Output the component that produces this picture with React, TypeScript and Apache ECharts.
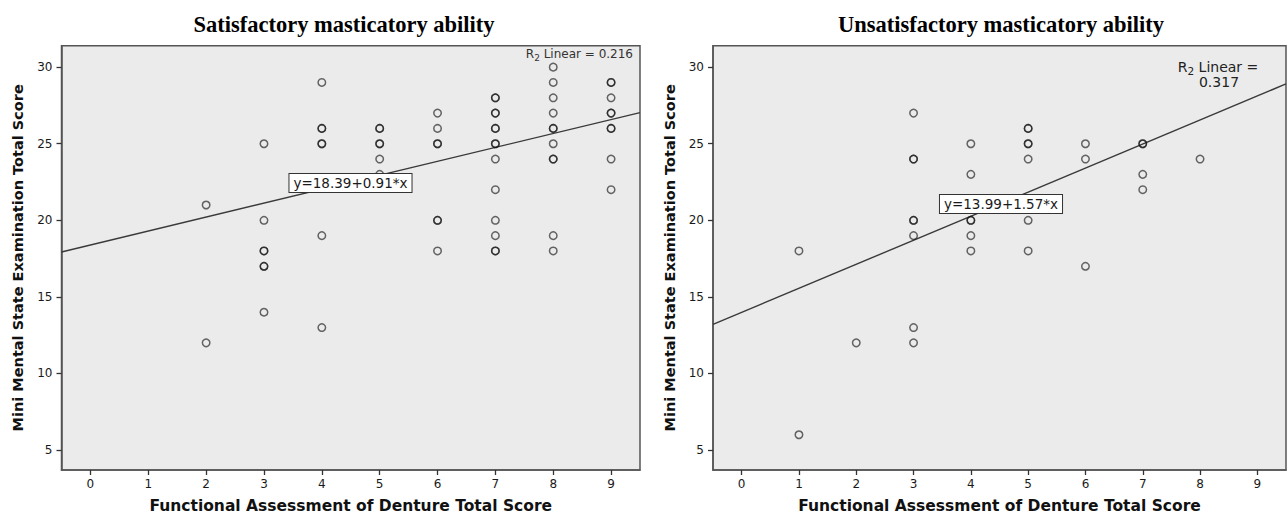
import React, { useEffect, useRef } from "react";
import * as echarts from "echarts";

// ---------- data ----------
const xTickValues = [0, 1, 2, 3, 4, 5, 6, 7, 8, 9];
const yTickValues = [5, 10, 15, 20, 25, 30];

const panelTitles = ["Satisfactory masticatory ability", "Unsatisfactory masticatory ability"];
const xAxisTitle = "Functional Assessment of Denture Total Score";
const yAxisTitle = "Mini Mental State Examination Total Score";

// [FAD score, MMSE score] (duplicates = overlapping respondents)
const satisfactoryPoints: [number, number][] = [
  [2, 21], [2, 12],
  [3, 25], [3, 20], [3, 18], [3, 18], [3, 17], [3, 17], [3, 14],
  [4, 29], [4, 26], [4, 26], [4, 25], [4, 25], [4, 19], [4, 13],
  [5, 26], [5, 26], [5, 25], [5, 25], [5, 24], [5, 23],
  [6, 27], [6, 26], [6, 25], [6, 25], [6, 20], [6, 20], [6, 18],
  [7, 28], [7, 28], [7, 27], [7, 27], [7, 26], [7, 26], [7, 25], [7, 25], [7, 24], [7, 22], [7, 20], [7, 19], [7, 18], [7, 18],
  [8, 30], [8, 29], [8, 28], [8, 27], [8, 26], [8, 26], [8, 25], [8, 24], [8, 24], [8, 19], [8, 18],
  [9, 29], [9, 29], [9, 28], [9, 27], [9, 27], [9, 26], [9, 26], [9, 24], [9, 22],
];

const unsatisfactoryPoints: [number, number][] = [
  [1, 18], [1, 6],
  [2, 12],
  [3, 27], [3, 24], [3, 24], [3, 20], [3, 20], [3, 19], [3, 13], [3, 12],
  [4, 25], [4, 23], [4, 20], [4, 20], [4, 19], [4, 18],
  [5, 26], [5, 26], [5, 25], [5, 25], [5, 24], [5, 20], [5, 18],
  [6, 25], [6, 24], [6, 17],
  [7, 25], [7, 25], [7, 23], [7, 22],
  [8, 24],
];

// fitted lines as reported: y = intercept + slope * x
const fitIntercepts = [18.39, 13.99];
const fitSlopes = [0.91, 1.57];
const fitLabels = ["y=18.39+0.91*x", "y=13.99+1.57*x"];
const r2Values = ["0.216", "0.317"];

const X_MIN = -0.5;
const X_MAX = 9.5;
const Y_MIN = 3.7;
const Y_MAX = 31.4;

const sans = "DejaVu Sans";

export default function App() {
  const ref = useRef<HTMLDivElement>(null);

  useEffect(() => {
    if (!ref.current) return;
    const chart = echarts.init(ref.current, null, { renderer: "svg" });

    const grids = [
      { left: 61.5, top: 45.7, width: 578.5, height: 426.6 },
      { left: 713, top: 45.7, width: 573, height: 426.6 },
    ].map((g) => ({
      ...g,
      show: true,
      backgroundColor: "#ebebeb",
      borderColor: "#555",
      borderWidth: 1.5,
    }));

    const mkX = (i: number) => ({
      type: "value" as const,
      gridIndex: i,
      min: X_MIN,
      max: X_MAX,
      name: xAxisTitle,
      nameLocation: "middle" as const,
      nameGap: 28,
      nameTextStyle: { fontFamily: sans, fontWeight: "bold", fontSize: 15.5, color: "#111" },
      axisLine: { show: true, onZero: false, lineStyle: { color: "#555", width: 1.5 } },
      axisTick: { show: true, length: 5, customValues: xTickValues, lineStyle: { color: "#333", width: 1.3 } },
      axisLabel: { customValues: xTickValues, margin: 8, fontFamily: sans, fontSize: 12, color: "#1a1a1a" },
      splitLine: { show: false },
    });

    const mkY = (i: number) => ({
      type: "value" as const,
      gridIndex: i,
      min: Y_MIN,
      max: Y_MAX,
      name: yAxisTitle,
      nameLocation: "middle" as const,
      nameGap: 36,
      nameTextStyle: { fontFamily: sans, fontWeight: "bold", fontSize: 14.5, color: "#111" },
      axisLine: { show: true, onZero: false, lineStyle: { color: "#555", width: 1.5 } },
      axisTick: { show: true, length: 5, customValues: yTickValues, lineStyle: { color: "#333", width: 1.3 } },
      axisLabel: { customValues: yTickValues, margin: 9, fontFamily: sans, fontSize: 12, color: "#1a1a1a" },
      splitLine: { show: false },
    });

    const scatter = (i: number, pts: [number, number][]) => ({
      type: "scatter" as const,
      xAxisIndex: i,
      yAxisIndex: i,
      data: pts,
      symbol: "circle",
      symbolSize: 7.5,
      itemStyle: { color: "rgba(0,0,0,0)", borderColor: "rgba(20,20,20,0.8)", borderWidth: 1.5 },
      emphasis: { disabled: true },
      z: 3,
    });

    const fitLine = (i: number) => ({
      type: "line" as const,
      xAxisIndex: i,
      yAxisIndex: i,
      data: [
        [X_MIN, fitIntercepts[i] + fitSlopes[i] * X_MIN],
        [X_MAX, fitIntercepts[i] + fitSlopes[i] * X_MAX],
      ],
      symbol: "none",
      lineStyle: { color: "#3a3a3a", width: 1.4 },
      emphasis: { disabled: true },
      z: 2,
    });

    const eqLabel = (text: string, cx: number, cy: number) => ({
      type: "text" as const,
      x: cx,
      y: cy,
      z: 10,
      style: {
        text,
        fontFamily: sans,
        fontSize: 13.5,
        fill: "#1a1a1a",
        align: "center",
        verticalAlign: "middle",
        backgroundColor: "#ffffff",
        borderColor: "#333",
        borderWidth: 1,
        padding: [2, 4, 2, 4],
      },
    });

    const option = {
      animation: false,
      backgroundColor: "#ffffff",
      grid: grids,
      xAxis: [mkX(0), mkX(1)],
      yAxis: [mkY(0), mkY(1)],
      series: [
        fitLine(0),
        scatter(0, satisfactoryPoints),
        fitLine(1),
        scatter(1, unsatisfactoryPoints),
      ],
      graphic: [
        {
          type: "text",
          x: 344,
          y: 24,
          style: {
            text: panelTitles[0],
            font: 'bold 22.5px "Liberation Serif"',
            fill: "#000",
            align: "center",
            verticalAlign: "middle",
          },
        },
        {
          type: "text",
          x: 1001,
          y: 24,
          style: {
            text: panelTitles[1],
            font: 'bold 22.5px "Liberation Serif"',
            fill: "#000",
            align: "center",
            verticalAlign: "middle",
          },
        },
        eqLabel(fitLabels[0], 350.5, 183),
        eqLabel(fitLabels[1], 1001, 204),
        {
          type: "text",
          x: 633,
          y: 54,
          z: 10,
          style: {
            text: "{r|R}{s|2}{r| Linear = " + r2Values[0] + "}",
            align: "right",
            verticalAlign: "middle",
            rich: {
              r: { fontFamily: sans, fontSize: 12, fill: "#333", lineHeight: 16 },
              s: { fontFamily: sans, fontSize: 9, fill: "#333", lineHeight: 10, verticalAlign: "bottom" },
            },
          },
        },
        {
          type: "text",
          x: 1218,
          y: 67,
          z: 10,
          style: {
            text: "{r|R}{s|2}{r| Linear =}",
            align: "center",
            verticalAlign: "middle",
            rich: {
              r: { fontFamily: sans, fontSize: 14, fill: "#222", lineHeight: 18 },
              s: { fontFamily: sans, fontSize: 10.5, fill: "#222", lineHeight: 12, verticalAlign: "bottom" },
            },
          },
        },
        {
          type: "text",
          x: 1219,
          y: 82,
          z: 10,
          style: {
            text: r2Values[1],
            fontFamily: sans,
            fontSize: 14,
            fill: "#222",
            align: "center",
            verticalAlign: "middle",
          },
        },
      ],
    };

    chart.setOption(option as any);
    return () => chart.dispose();
  }, []);

  return (
    <div
      ref={ref}
      style={{ position: "absolute", left: 0, top: 0, width: 1287, height: 519, background: "#fff" }}
    />
  );
}
